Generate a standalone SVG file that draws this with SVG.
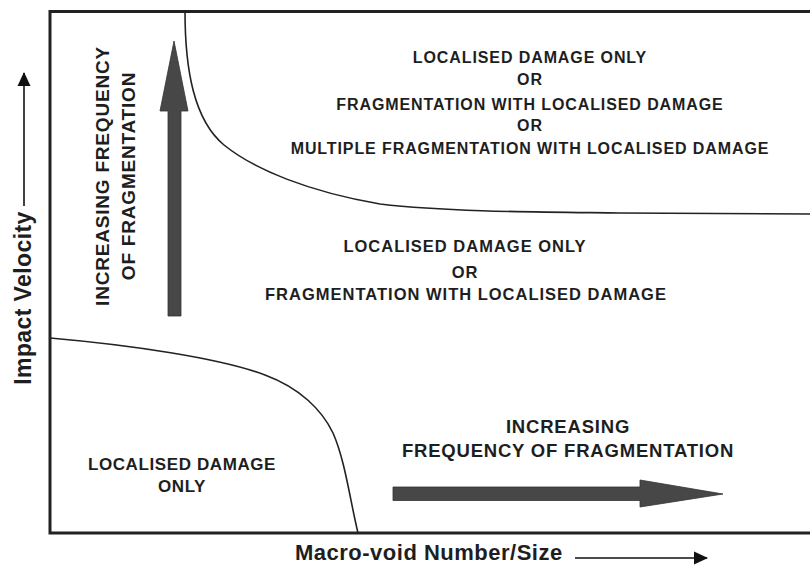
<svg xmlns="http://www.w3.org/2000/svg" width="810" height="567" viewBox="0 0 810 567">
<style>
  .t { font-family: "Liberation Sans", Arial, sans-serif; font-weight: bold; fill: #1e1e1e; }
  .m { text-anchor: middle; }
  .frame { fill: none; stroke: #222; stroke-width: 3; }
  .curve { fill: none; stroke: #222; stroke-width: 1.6; }
  .axis { fill: none; stroke: #111; stroke-width: 1.6; }
  .big { fill: #474747; stroke: #333; stroke-width: 0.8; }
</style>
<defs>
  <marker id="ah" viewBox="0 0 14 14" refX="13" refY="7" markerWidth="14" markerHeight="14" markerUnits="userSpaceOnUse" orient="auto">
    <path d="M0,0.5 L14,7 L0,13.5 Z" fill="#111"/>
  </marker>
</defs>
<rect width="810" height="567" fill="#fff"/>

<g id="frame">
  <path class="frame" d="M810,11.5 H50 V533 H810"/>
</g>

<g id="connectors">
  <path id="upper-boundary" class="curve" d="M185,11 C185,70 194,120 224,145 C255,170 310,192 380,204 C450,212 540,212 620,213 L810,214"/>
  <path id="lower-boundary" class="curve" d="M50,338 C130,345 220,358 265,375 C300,388 322,410 333,433 C345,460 350,500 358,533"/>
  <line id="y-axis-arrow" class="axis" x1="24" y1="206" x2="24" y2="73" marker-end="url(#ah)"/>
  <line id="x-axis-arrow" class="axis" x1="575" y1="558" x2="707" y2="558" marker-end="url(#ah)"/>
</g>

<g id="arrow-vertical">
  <polygon class="big" points="168,316 168,111 160,111 174,41 188,111 181,111 181,316"/>
</g>
<g id="arrow-horizontal">
  <polygon class="big" points="393,487 640,487 640,480 723,494 640,507 640,500.5 393,500.5"/>
</g>

<g id="label-y-axis">
  <text class="t m" font-size="23" letter-spacing="0.4" transform="translate(31,298) rotate(-90)">Impact Velocity</text>
</g>
<g id="label-x-axis">
  <text class="t" font-size="22" letter-spacing="0.5" x="295" y="560">Macro-void Number/Size</text>
</g>

<g id="label-vertical-trend">
  <text class="t m" font-size="19" letter-spacing="0.8" transform="translate(109,176) rotate(-90)">INCREASING FREQUENCY</text>
  <text class="t m" font-size="19" letter-spacing="0.8" transform="translate(135,176) rotate(-90)">OF FRAGMENTATION</text>
</g>

<g id="region-top">
  <text class="t m" font-size="16" letter-spacing="0.9" x="530" y="63">LOCALISED DAMAGE ONLY</text>
  <text class="t m" font-size="16" letter-spacing="0.9" x="530" y="85">OR</text>
  <text class="t m" font-size="16" letter-spacing="0.9" x="530" y="110">FRAGMENTATION WITH LOCALISED DAMAGE</text>
  <text class="t m" font-size="16" letter-spacing="0.9" x="530" y="131">OR</text>
  <text class="t m" font-size="16" letter-spacing="0.9" x="530" y="154">MULTIPLE FRAGMENTATION WITH LOCALISED DAMAGE</text>
</g>

<g id="region-middle">
  <text class="t m" font-size="16.5" letter-spacing="1" x="465" y="252">LOCALISED DAMAGE ONLY</text>
  <text class="t m" font-size="16.5" letter-spacing="1" x="465" y="278">OR</text>
  <text class="t m" font-size="16.5" letter-spacing="1" x="466" y="300">FRAGMENTATION WITH LOCALISED DAMAGE</text>
</g>

<g id="region-bottom">
  <text class="t m" font-size="17" letter-spacing="0.6" x="182" y="470">LOCALISED DAMAGE</text>
  <text class="t m" font-size="17" letter-spacing="0.6" x="182" y="492">ONLY</text>
</g>

<g id="label-horizontal-trend">
  <text class="t m" font-size="18.5" letter-spacing="0.8" x="568" y="433">INCREASING</text>
  <text class="t m" font-size="18.5" letter-spacing="0.8" x="568" y="457">FREQUENCY OF FRAGMENTATION</text>
</g>
</svg>
